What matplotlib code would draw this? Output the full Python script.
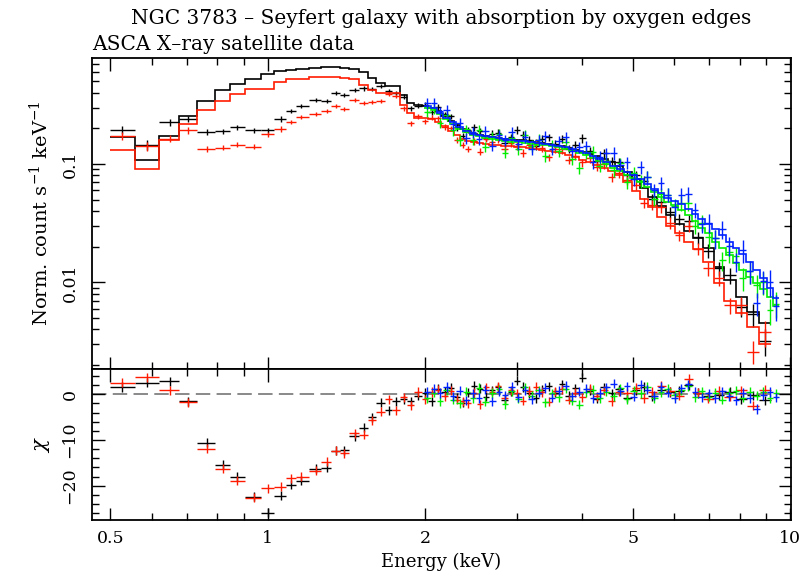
import numpy as np
import matplotlib
matplotlib.use("Agg")
import matplotlib.pyplot as plt
from matplotlib.ticker import FixedLocator, NullFormatter, FuncFormatter, MultipleLocator, LogLocator

plt.rcParams['font.family'] = ['DejaVu Serif']
plt.rcParams['mathtext.fontset'] = 'dejavuserif'

title_line1 = "NGC 3783 \u2013 Seyfert galaxy with absorption by oxygen edges"
title_line2 = "ASCA X\u2013ray satellite data"
ylabel_top = r"Norm. count s$^{-1}$ keV$^{-1}$"
ylabel_bot = r"$\chi$"
xlabel = "Energy (keV)"

# ---------------- SIS detectors (black = SIS0, red = SIS1), bin centres in keV
sis_energy = [0.527, 0.589, 0.650, 0.705, 0.764, 0.822, 0.875, 0.940, 1.000, 1.060, 1.110, 1.160,
              1.236, 1.297, 1.349, 1.400, 1.467, 1.530, 1.586, 1.645, 1.706, 1.760, 1.820, 1.880,
              1.94, 2.00, 2.06, 2.12, 2.18, 2.24, 2.30, 2.36, 2.42, 2.48, 2.55, 2.62, 2.69, 2.76,
              2.84, 2.92, 3.00, 3.08, 3.17, 3.26, 3.35, 3.45, 3.55, 3.66, 3.77, 3.88, 4.00, 4.13,
              4.26, 4.40, 4.55, 4.71, 4.88, 5.06, 5.25, 5.45, 5.66, 5.89, 6.13, 6.39, 6.67, 6.97,
              7.30, 7.66, 8.06, 8.50, 8.95]

sis0_rate = [0.193, 0.145, 0.225, 0.239, 0.187, 0.189, 0.205, 0.193, 0.193, 0.240, 0.279, 0.307,
             0.345, 0.340, 0.400, 0.385, 0.420, 0.435, 0.430, 0.455, 0.410, 0.400, 0.370, 0.297,
             0.312, 0.316, 0.273, 0.304, 0.263, 0.253, 0.204, 0.173, 0.193, 0.205, 0.191, 0.166,
             0.180, 0.184, 0.150, 0.169, 0.194, 0.176, 0.159, 0.143, 0.162, 0.168, 0.149, 0.164,
             0.134, 0.145, 0.165, 0.129, 0.107, 0.123, 0.105, 0.104, 0.081, 0.080, 0.072, 0.051,
             0.048, 0.039, 0.034, 0.033, 0.024, 0.0185, 0.0131, 0.0115, 0.0062, 0.0054, 0.0032]
sis0_model = [0.169, 0.109, 0.174, 0.256, 0.338, 0.418, 0.473, 0.525, 0.574, 0.605, 0.620, 0.635,
              0.653, 0.655, 0.655, 0.650, 0.630, 0.595, 0.530, 0.480, 0.452, 0.452, 0.385, 0.327,
              0.318, 0.310, 0.300, 0.282, 0.255, 0.232, 0.212, 0.198, 0.188, 0.181, 0.176, 0.172,
              0.169, 0.166, 0.164, 0.162, 0.160, 0.158, 0.156, 0.153, 0.151, 0.148, 0.145, 0.141,
              0.137, 0.132, 0.127, 0.122, 0.116, 0.110, 0.103, 0.096, 0.086, 0.074, 0.063, 0.053,
              0.044, 0.037, 0.031, 0.027, 0.0235, 0.0195, 0.0135, 0.0105, 0.0075, 0.0056, 0.0045]
sis0_chi = [1.6, 2.5, 2.9, -1.5, -10.6, -15.4, -18.0, -22.4, -25.9, -22.2, -19.8, -18.9,
            -16.3, -16.1, -12.3, -12.2, -9.2, -7.3, -5.0, -1.8, -3.5, -1.5, -1.1, -1.5,
            -0.3, 0.3, -1.5, 1.2, 0.5, 1.4, -0.6, -1.8, 0.4, 1.9, 1.2, -0.5, 0.9, 1.5, -1.2, 0.6,
            3.0, 1.6, 0.3, -0.9, 1.0, 1.8, 0.4, 2.2, -0.3, 1.3, 3.6, 0.8, -1.0, 1.5, 0.2, 1.1,
            -0.7, 0.9, 1.6, -0.4, 1.0, 0.5, 0.8, 2.0, 0.3, -0.4, -0.2, 0.6, -1.1, -0.2, -1.3]

sis1_rate = [0.172, 0.142, 0.164, 0.192, 0.134, 0.137, 0.146, 0.140, 0.178, 0.198, 0.225, 0.250,
             0.265, 0.279, 0.307, 0.293, 0.345, 0.327, 0.334, 0.343, 0.390, 0.378, 0.297, 0.222,
             0.252, 0.229, 0.247, 0.243, 0.205, 0.200, 0.161, 0.146, 0.135, 0.156, 0.127, 0.164,
             0.152, 0.163, 0.135, 0.151, 0.142, 0.124, 0.144, 0.150, 0.137, 0.114, 0.134, 0.133,
             0.108, 0.117, 0.103, 0.112, 0.095, 0.100, 0.077, 0.084, 0.073, 0.066, 0.047, 0.045,
             0.043, 0.032, 0.025, 0.030, 0.0193, 0.0131, 0.0109, 0.0064, 0.0064, 0.0026, 0.0038]
sis1_model = [0.132, 0.090, 0.158, 0.216, 0.288, 0.338, 0.392, 0.432, 0.432, 0.492, 0.521, 0.521,
              0.542, 0.542, 0.542, 0.535, 0.520, 0.468, 0.424, 0.397, 0.397, 0.397, 0.318, 0.270,
              0.245, 0.245, 0.240, 0.228, 0.210, 0.190, 0.175, 0.163, 0.157, 0.153, 0.150, 0.148,
              0.146, 0.145, 0.143, 0.142, 0.140, 0.138, 0.136, 0.134, 0.132, 0.130, 0.127, 0.123,
              0.119, 0.114, 0.108, 0.103, 0.098, 0.093, 0.087, 0.080, 0.071, 0.059, 0.051, 0.043,
              0.036, 0.030, 0.026, 0.022, 0.019, 0.0150, 0.0098, 0.0070, 0.0055, 0.0042, 0.0030]
sis1_chi = [2.5, 3.7, 0.9, -1.7, -11.9, -16.3, -18.9, -22.6, -20.6, -20.2, -18.4, -18.0,
            -16.7, -14.7, -12.3, -12.9, -8.5, -8.8, -5.7, -3.8, -1.1, -3.5, -0.6, -2.4,
            0.5, -1.1, 0.5, 1.0, -0.4, 0.8, -1.2, -1.5, -2.0, 0.3, -2.2, 1.5, 0.6, 1.8, -0.8, 0.9,
            0.2, -1.4, 0.8, 1.6, 0.5, -1.6, 0.7, 1.1, -1.2, 0.4, -0.6, 1.2, -0.4, 0.9, -1.5, 0.6,
            0.3, 1.4, -0.8, 0.5, 1.9, 0.7, -0.3, 3.4, 0.4, -1.0, 0.8, -0.5, 0.9, -2.5, 1.0]

sis_frac_err = [0.08, 0.09, 0.07, 0.06, 0.06, 0.05, 0.05, 0.05, 0.05, 0.05, 0.04, 0.04,
                0.04, 0.04, 0.04, 0.04, 0.04, 0.04, 0.04, 0.04, 0.04, 0.04, 0.05, 0.05,
                0.05, 0.05, 0.05, 0.055, 0.055, 0.055, 0.06, 0.06, 0.06, 0.065, 0.065, 0.065,
                0.07, 0.07, 0.07, 0.07, 0.07, 0.075, 0.075, 0.075, 0.075, 0.075, 0.08, 0.08,
                0.08, 0.08, 0.08, 0.085, 0.085, 0.085, 0.09, 0.09, 0.09, 0.095, 0.095, 0.10,
                0.10, 0.11, 0.11, 0.12, 0.12, 0.13, 0.14, 0.16, 0.18, 0.22, 0.25]

# ---------------- GIS detectors (green = GIS2, blue = GIS3)
gis_energy = [2.02, 2.08, 2.14, 2.20, 2.26, 2.33, 2.40, 2.47, 2.54, 2.61, 2.69, 2.77, 2.85, 2.93,
              3.02, 3.11, 3.20, 3.30, 3.40, 3.50, 3.61, 3.72, 3.83, 3.95, 4.07, 4.19, 4.32, 4.45,
              4.59, 4.73, 4.87, 5.02, 5.17, 5.33, 5.49, 5.66, 5.83, 6.01, 6.19, 6.38, 6.57, 6.77,
              6.98, 7.19, 7.41, 7.64, 7.87, 8.11, 8.36, 8.62, 8.88, 9.15, 9.40]

gis2_rate = [0.276, 0.296, 0.223, 0.259, 0.192, 0.159, 0.196, 0.160, 0.195, 0.140, 0.168, 0.178,
             0.124, 0.165, 0.135, 0.175, 0.143, 0.160, 0.117, 0.144, 0.129, 0.152, 0.110, 0.093,
             0.126, 0.127, 0.097, 0.107, 0.089, 0.101, 0.070, 0.084, 0.072, 0.077, 0.051, 0.056,
             0.055, 0.044, 0.047, 0.047, 0.030, 0.032, 0.024, 0.0236, 0.0153, 0.0179, 0.0166,
             0.0108, 0.0124, 0.0095, 0.0100, 0.0058, 0.0066]
gis2_model = [0.300, 0.285, 0.262, 0.238, 0.218, 0.199, 0.185, 0.176, 0.171, 0.167, 0.163, 0.160,
              0.157, 0.154, 0.152, 0.150, 0.148, 0.146, 0.144, 0.141, 0.138, 0.134, 0.130, 0.125,
              0.119, 0.113, 0.107, 0.100, 0.093, 0.087, 0.081, 0.076, 0.070, 0.064, 0.058, 0.053,
              0.048, 0.045, 0.041, 0.037, 0.033, 0.029, 0.026, 0.022, 0.0195, 0.0170, 0.0145,
              0.0128, 0.0112, 0.0098, 0.0088, 0.0075, 0.0063]
gis2_chi = [-0.8, 0.4, -1.5, 0.9, -1.2, -2.0, 0.6, -0.9, 1.4, -1.6, 0.3, 1.1, -2.1, 0.7,
            -1.0, 1.5, -0.3, 0.9, -1.7, 0.2, -0.6, 1.2, -1.4, -2.3, 0.5, 1.0, -0.8, 0.6,
            -0.4, 1.3, -1.1, 0.8, 0.2, 1.6, -0.9, 0.5, 1.2, -0.2, 0.9, 1.8, -0.6, 0.7,
            -0.5, 0.4, -1.2, 0.3, 0.8, -0.7, 0.5, -0.3, 0.6, -0.9, 0.2]

gis3_rate = [0.326, 0.330, 0.278, 0.284, 0.216, 0.221, 0.165, 0.185, 0.162, 0.189, 0.143, 0.175,
             0.159, 0.186, 0.147, 0.170, 0.134, 0.158, 0.172, 0.135, 0.156, 0.168, 0.128, 0.138,
             0.141, 0.104, 0.115, 0.123, 0.124, 0.099, 0.103, 0.075, 0.094, 0.077, 0.060, 0.069,
             0.055, 0.043, 0.055, 0.056, 0.041, 0.031, 0.032, 0.0235, 0.0282, 0.0204, 0.0149,
             0.0187, 0.0124, 0.0067, 0.0103, 0.0101, 0.0063]
gis3_model = [0.310, 0.295, 0.270, 0.245, 0.225, 0.205, 0.190, 0.181, 0.176, 0.172, 0.168, 0.165,
              0.162, 0.159, 0.157, 0.155, 0.153, 0.151, 0.149, 0.146, 0.143, 0.139, 0.134, 0.129,
              0.123, 0.117, 0.111, 0.104, 0.097, 0.091, 0.085, 0.080, 0.074, 0.068, 0.062, 0.057,
              0.052, 0.049, 0.046, 0.042, 0.038, 0.034, 0.031, 0.028, 0.025, 0.022, 0.0195,
              0.0172, 0.0150, 0.0128, 0.0108, 0.0090, 0.0074]
gis3_chi = [0.5, 1.2, 0.3, 1.6, -0.4, 0.8, -1.3, 0.2, -0.8, 1.0, -1.5, 0.6, -0.2, 1.7,
            -0.6, 0.9, -1.1, 0.4, 1.4, -0.7, 0.8, 1.9, -0.4, 0.6, 1.2, -0.9, 0.3, 1.5,
            2.3, 0.7, 1.8, -0.5, 2.1, 1.0, -0.3, 1.6, 0.4, -0.8, 1.3, 2.2, 0.5, -0.6,
            0.2, -0.9, 0.7, -0.4, -1.3, 0.4, -0.8, -3.2, -0.2, 0.5, -0.6]

gis_frac_err = [0.10, 0.10, 0.10, 0.10, 0.10, 0.10, 0.10, 0.10, 0.10, 0.10, 0.10, 0.10, 0.10, 0.10,
                0.11, 0.11, 0.11, 0.11, 0.11, 0.11, 0.11, 0.11, 0.11, 0.11, 0.12, 0.12, 0.12, 0.12,
                0.12, 0.12, 0.12, 0.13, 0.13, 0.13, 0.13, 0.13, 0.13, 0.15, 0.15, 0.15, 0.15, 0.15,
                0.18, 0.18, 0.18, 0.18, 0.18, 0.22, 0.22, 0.22, 0.22, 0.25, 0.25]

colors = {"sis0": "#000000", "sis1": "#ff1a00", "gis2": "#00ee00", "gis3": "#0022ff"}


def edges_from_centers(c):
    c = np.asarray(c, dtype=float)
    mid = np.sqrt(c[:-1] * c[1:])
    return np.concatenate([[c[0] ** 2 / mid[0]], mid, [c[-1] ** 2 / mid[-1]]])


fig = plt.figure(figsize=(8.03, 5.76), dpi=100)
left, width = 0.1149, 0.8698
ax1 = fig.add_axes([left, 0.3602, width, 0.5386])
ax2 = fig.add_axes([left, 0.0972, width, 0.2630], sharex=ax1)

datasets = [
    (sis_energy, sis0_rate, sis0_model, sis0_chi, sis_frac_err, colors["sis0"]),
    (sis_energy, sis1_rate, sis1_model, sis1_chi, sis_frac_err, colors["sis1"]),
    (gis_energy, gis2_rate, gis2_model, gis2_chi, gis_frac_err, colors["gis2"]),
    (gis_energy, gis3_rate, gis3_model, gis3_chi, gis_frac_err, colors["gis3"]),
]

ax2.axhline(0, color="#808080", lw=1.3, ls=(0, (8, 3.5)), zorder=1)

for k, (e, rate, model, chi, ferr, col) in enumerate(datasets):
    e = np.asarray(e)
    edges = edges_from_centers(e)
    xlo = e - edges[:-1]
    xhi = edges[1:] - e
    rate = np.asarray(rate)
    yerr = rate * np.asarray(ferr)
    z = 2 + k
    ax1.errorbar(e, rate, xerr=[xlo, xhi], yerr=yerr, fmt="none", ecolor=col,
                 elinewidth=1.0, capsize=0, zorder=z)
    ax1.stairs(model, edges, color=col, lw=1.2, baseline=None, zorder=z)
    ax2.errorbar(e, chi, xerr=[xlo, xhi], yerr=np.ones(len(e)), fmt="none", ecolor=col,
                 elinewidth=1.0, capsize=0, zorder=z)

ax1.set_xscale("log")
ax1.set_yscale("log")
ax1.set_xlim(0.4618, 10.02)
ax1.set_ylim(0.00187, 0.782)
ax2.set_ylim(-27.5, 5.65)

xmaj = [0.5, 1, 2, 5, 10]
xmin = [0.6, 0.7, 0.8, 0.9, 3, 4, 6, 7, 8, 9]
ax2.xaxis.set_major_locator(FixedLocator(xmaj))
ax2.xaxis.set_minor_locator(FixedLocator(xmin))
ax2.xaxis.set_minor_formatter(NullFormatter())
ax2.xaxis.set_major_formatter(FuncFormatter(lambda v, p: f"{v:g}"))

for ax in (ax1, ax2):
    ax.tick_params(which="both", direction="in", top=True, right=True, width=1.0,
                   labelsize=12.5)
    ax.tick_params(which="major", length=9)
    ax.tick_params(which="minor", length=5)
    for s in ax.spines.values():
        s.set_linewidth(1.3)

ax1.tick_params(axis="x", which="both", labelbottom=False, labeltop=False)
ax2.tick_params(axis="x", pad=7)

ax1.yaxis.set_major_locator(LogLocator(base=10, numticks=10))
ax1.yaxis.set_minor_locator(LogLocator(base=10, subs=np.arange(2, 10), numticks=20))
ax1.yaxis.set_minor_formatter(NullFormatter())
ax1.yaxis.set_major_formatter(FuncFormatter(lambda v, p: f"{v:g}"))

ax2.yaxis.set_major_locator(MultipleLocator(10))
ax2.yaxis.set_minor_locator(MultipleLocator(2))
ax2.yaxis.set_major_formatter(FuncFormatter(lambda v, p: f"{int(round(v))}".replace("-", "\u2212")))

for ax in (ax1, ax2):
    ax.tick_params(axis="y", labelrotation=90, pad=10)
    for lbl in ax.get_yticklabels():
        lbl.set_va("center")

ax1.set_ylabel(ylabel_top, fontsize=14)
ax1.yaxis.set_label_coords(-0.058, 0.5)
ax2.set_ylabel(ylabel_bot, fontsize=15)
ax2.yaxis.set_label_coords(-0.058, 0.5)
ax2.set_xlabel(xlabel, fontsize=13)
ax2.xaxis.set_label_coords(0.5, -0.215)

fig.text(left + width / 2, 1 - 18 / 576, title_line1, ha="center", va="center", fontsize=14.5)
fig.text(left, 1 - 44 / 576, title_line2, ha="left", va="center", fontsize=14.5)

fig.savefig("out.png", dpi=100)
